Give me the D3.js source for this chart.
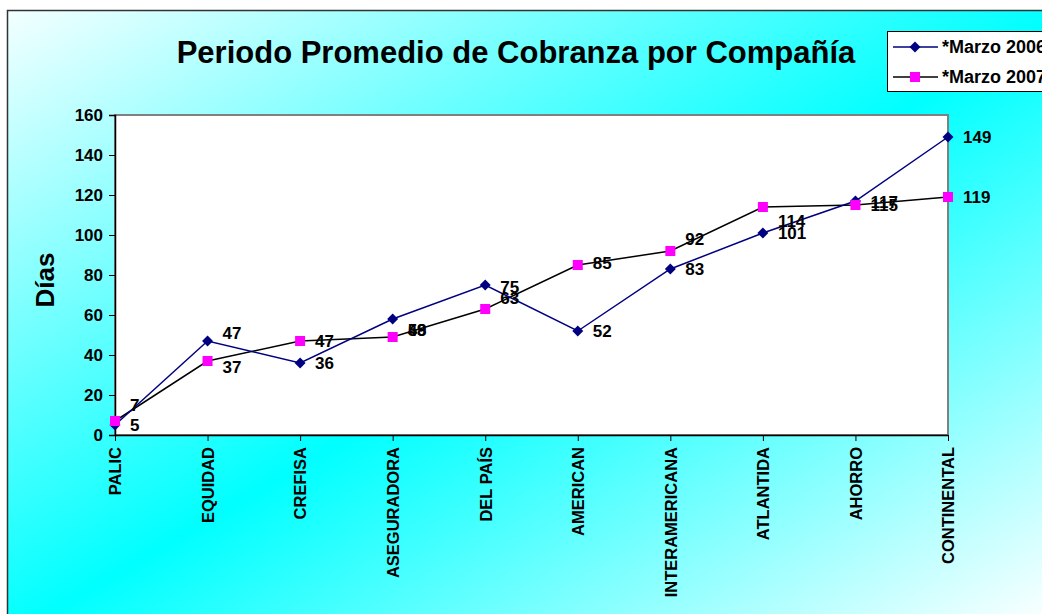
<!DOCTYPE html>
<html>
<head>
<meta charset="utf-8">
<script src="https://cdn.jsdelivr.net/npm/d3@7"></script>
<style>
  html, body { margin: 0; padding: 0; background: #ffffff; }
  svg { display: block; font-family: "Liberation Sans", Arial, sans-serif; }
</style>
</head>
<body>
<svg id="chart" width="1042" height="614"></svg>
<script>
// ---- data ----
const categories = ["PALIC", "EQUIDAD", "CREFISA", "ASEGURADORA", "DEL PAÍS", "AMERICAN",
                    "INTERAMERICANA", "ATLANTIDA", "AHORRO", "CONTINENTAL"];
const marzo2006 = [5, 47, 36, 58, 75, 52, 83, 101, 117, 149];
const marzo2007 = [7, 37, 47, 49, 63, 85, 92, 114, 115, 119];
const seriesNames = ["*Marzo 2006", "*Marzo 2007"];
const yTicks = [0, 20, 40, 60, 80, 100, 120, 140, 160];
const titleText = "Periodo Promedio de Cobranza por Compañía";
const yTitle = "Días";
// vertical nudges (px) of the value labels, as placed in the original
const nudge2006 = [0, -8, 0, 11, 2, 0, 0, 0, 1, 0];
const nudge2007 = [-16, 6, 0, -7, -11, -2, -12, 14, 0, 0];

const svg = d3.select("#chart");
const defs = svg.append("defs");
const grad = defs.append("linearGradient").attr("id", "bg")
  .attr("x1", 0).attr("y1", 0).attr("x2", 1).attr("y2", 1);
grad.append("stop").attr("offset", 0).attr("stop-color", "#f4ffff");
grad.append("stop").attr("offset", 0.51).attr("stop-color", "#00ffff");
grad.append("stop").attr("offset", 1).attr("stop-color", "#ffffff");

// outer frame
svg.append("rect").attr("x", 7.5).attr("y", 10.5).attr("width", 1045).attr("height", 615)
  .attr("fill", "url(#bg)").attr("stroke", "#333333").attr("stroke-width", 1.5);

const plot = { left: 115, right: 948, top: 115, bottom: 435 };
const x = d3.scalePoint().domain(categories).range([plot.left, plot.right]);
const y = d3.scaleLinear().domain([0, 160]).range([plot.bottom, plot.top]);

// plot area
svg.append("rect").attr("x", plot.left).attr("y", plot.top)
  .attr("width", plot.right - plot.left).attr("height", plot.bottom - plot.top)
  .attr("fill", "#ffffff").attr("stroke", "#808080").attr("stroke-width", 2);

// y axis
const yAxis = svg.append("g").attr("transform", `translate(${plot.left},0)`)
  .call(d3.axisLeft(y).tickValues(yTicks).tickSize(6).tickPadding(6));
yAxis.select(".domain").attr("stroke", "#000").attr("stroke-width", 1.5);
yAxis.selectAll(".tick line").attr("stroke", "#000");
yAxis.selectAll(".tick text").attr("font-size", 17).attr("font-weight", "bold")
  .attr("fill", "#000").attr("font-family", "Liberation Sans, Arial, sans-serif");

// x axis
const xAxis = svg.append("g").attr("transform", `translate(0,${plot.bottom})`)
  .call(d3.axisBottom(x).tickSize(6).tickSizeOuter(0));
xAxis.select(".domain").attr("stroke", "#000").attr("stroke-width", 1.5);
xAxis.selectAll(".tick line").attr("stroke", "#000");
xAxis.selectAll(".tick text")
  .attr("font-size", 16.5).attr("font-weight", "bold").attr("fill", "#000")
  .attr("font-family", "Liberation Sans, Arial, sans-serif")
  .attr("transform", "rotate(-90)")
  .attr("text-anchor", "end")
  .attr("x", -12).attr("y", 0).attr("dy", "0.35em");

// lines
const line = d3.line().x((d, i) => x(categories[i])).y(d => y(d));
svg.append("path").datum(marzo2007).attr("d", line)
  .attr("fill", "none").attr("stroke", "#000000").attr("stroke-width", 1.5);
svg.append("path").datum(marzo2006).attr("d", line)
  .attr("fill", "none").attr("stroke", "#000080").attr("stroke-width", 1.5);

// markers
const diamond = d3.symbol().type(d3.symbolSquare).size(60);
svg.append("g").selectAll("path").data(marzo2006).join("path")
  .attr("d", diamond)
  .attr("transform", (d, i) => `translate(${x(categories[i])},${y(d)}) rotate(45)`)
  .attr("fill", "#000080");
svg.append("g").selectAll("rect").data(marzo2007).join("rect")
  .attr("x", (d, i) => x(categories[i]) - 5).attr("y", d => y(d) - 5)
  .attr("width", 10).attr("height", 10).attr("fill", "#ff00ff");

// value labels
function labels(values, nudge) {
  svg.append("g").selectAll("text").data(values).join("text")
    .attr("x", (d, i) => x(categories[i]) + 15)
    .attr("y", (d, i) => y(d) + nudge[i])
    .attr("dy", "0.36em")
    .attr("font-size", 17).attr("font-weight", "bold").attr("fill", "#000")
    .text(d => d);
}
labels(marzo2006, nudge2006);
labels(marzo2007, nudge2007);

// title
svg.append("text").attr("x", 516).attr("y", 63).attr("text-anchor", "middle")
  .attr("font-size", 31).attr("font-weight", "bold").attr("fill", "#000")
  .text(titleText);

// y title
svg.append("text").attr("transform", "translate(54,280) rotate(-90)")
  .attr("text-anchor", "middle").attr("font-size", 26).attr("font-weight", "bold")
  .attr("fill", "#000").text(yTitle);

// legend
const lg = svg.append("g");
lg.append("rect").attr("x", 887.5).attr("y", 31.5).attr("width", 170).attr("height", 60)
  .attr("fill", "#ffffff").attr("stroke", "#000").attr("stroke-width", 1);
const legendRows = [
  { name: seriesNames[0], color: "#000080", marker: "diamond", cy: 47 },
  { name: seriesNames[1], color: "#000000", marker: "square", cy: 77 }
];
legendRows.forEach(r => {
  lg.append("line").attr("x1", 893).attr("x2", 938).attr("y1", r.cy).attr("y2", r.cy)
    .attr("stroke", r.color).attr("stroke-width", 1.5);
  if (r.marker === "diamond") {
    lg.append("path").attr("d", diamond).attr("transform", `translate(915,${r.cy}) rotate(45)`)
      .attr("fill", "#000080");
  } else {
    lg.append("rect").attr("x", 910).attr("y", r.cy - 5).attr("width", 10).attr("height", 10)
      .attr("fill", "#ff00ff");
  }
  lg.append("text").attr("x", 942).attr("y", r.cy).attr("dy", "0.36em")
    .attr("font-size", 18).attr("font-weight", "bold").attr("fill", "#000").text(r.name);
});
</script>
</body>
</html>
